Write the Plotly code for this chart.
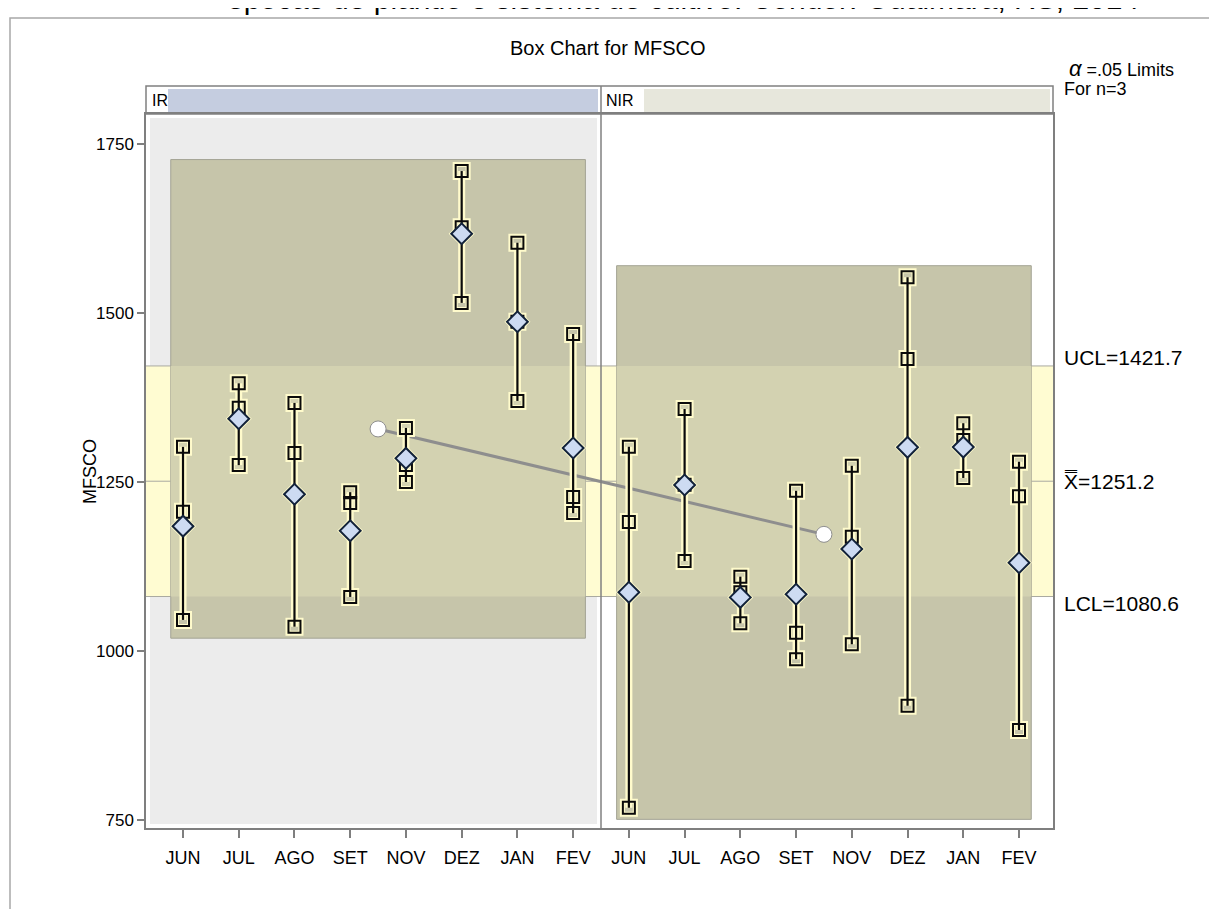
import numpy as np
import plotly.graph_objects as go

# ---------------- data ----------------
months = ["JUN", "JUL", "AGO", "SET", "NOV", "DEZ", "JAN", "FEV"]
groups = ["IR", "NIR"]
ir_obs = [
    [1302, 1206, 1046],
    [1396, 1360, 1275],
    [1367, 1293, 1036],
    [1235, 1219, 1080],
    [1330, 1275, 1250],
    [1710, 1627, 1515],
    [1604, 1487, 1370],
    [1469, 1228, 1204],
]
nir_obs = [
    [1302, 1191, 768],
    [1358, 1246, 1133],
    [1110, 1087, 1041],
    [1237, 1027, 988],
    [1274, 1169, 1010],
    [1553, 1432, 919],
    [1337, 1312, 1256],
    [1280, 1229, 883],
]
ucl = 1421.7
center = 1251.2
lcl = 1080.6
y_ticks = [750, 1000, 1250, 1500, 1750]

# ---------------- derived ----------------
obs = ir_obs + nir_obs
nm = len(months)
xs = list(range(len(obs)))
means = [float(np.mean(o)) for o in obs]
group_obs = [ir_obs, nir_obs]
group_x = [(g * nm + (g * nm + nm - 1)) / 2 for g in range(len(groups))]
group_mean = [float(np.mean([np.mean(o) for o in go_])) for go_ in group_obs]

FONT = "Liberation Sans"
W, H = 1217, 909
L, T = 138, 106
RIGHT, BOTTOM = 1045, 820
R, B = W - RIGHT, H - BOTTOM
PW = RIGHT - L
PH = BOTTOM - T
STRIP_TOP = 78
X_RANGE = [-0.664, 15.61]


def px_x(p):
    return (p - L) / PW


def px_y(p):
    return 1 - (p - T) / PH


fig = go.Figure()
shapes = []

# frame around whole chart
shapes.append(dict(type="rect", xref="paper", yref="paper", x0=px_x(2), x1=px_x(W + 10),
                   y0=px_y(H + 10), y1=px_y(10), line=dict(color="#a8a8a8", width=1.5),
                   fillcolor="rgba(0,0,0,0)", layer="below"))
# IR panel background
div_px = L + (nm - 0.5 - X_RANGE[0]) / (X_RANGE[1] - X_RANGE[0]) * PW
shapes.append(dict(type="rect", xref="paper", yref="paper", x0=px_x(L + 4), x1=px_x(div_px - 4),
                   y0=px_y(BOTTOM - 4), y1=px_y(T + 4), line=dict(width=0), fillcolor="#ececec",
                   layer="below"))
# control-limit band
shapes.append(dict(type="rect", xref="paper", yref="y", x0=0, x1=1, y0=lcl, y1=ucl,
                   line=dict(width=0), fillcolor="#fffcd2", layer="below"))
# range boxes per group
pad_x, pad_y = 0.22, 17
for g, gobs in enumerate(group_obs):
    allv = [v for o in gobs for v in o]
    bmin, bmax = min(allv) - pad_y, max(allv) + pad_y
    x0, x1 = g * nm - pad_x, g * nm + nm - 1 + pad_x
    shapes.append(dict(type="rect", xref="x", yref="y", x0=x0, x1=x1, y0=bmin, y1=bmax,
                       line=dict(color="#a3a394", width=1), fillcolor="#c6c5aa", layer="below"))
    shapes.append(dict(type="rect", xref="x", yref="y", x0=x0, x1=x1,
                       y0=max(lcl, bmin), y1=min(ucl, bmax),
                       line=dict(width=0), fillcolor="#d3d2b1", layer="below"))
# limit lines
for v in (ucl, center, lcl):
    shapes.append(dict(type="line", xref="paper", yref="y", x0=0, x1=1, y0=v, y1=v,
                       line=dict(color="#a9a9a0", width=1), layer="below"))
# panel divider
shapes.append(dict(type="line", xref="x", yref="paper", x0=nm - 0.5, x1=nm - 0.5,
                   y0=0, y1=px_y(STRIP_TOP), line=dict(color="#808080", width=1.5)))
# strip
shapes.append(dict(type="rect", xref="paper", yref="paper", x0=0, x1=1, y0=px_y(T),
                   y1=px_y(STRIP_TOP), line=dict(color="#808080", width=1.5),
                   fillcolor="rgba(0,0,0,0)"))
shapes.append(dict(type="rect", xref="paper", yref="paper", x0=px_x(160), x1=px_x(div_px - 3),
                   y0=px_y(T - 2), y1=px_y(STRIP_TOP + 3), line=dict(width=0), fillcolor="#c5cde0",
                   layer="below"))
shapes.append(dict(type="rect", xref="paper", yref="paper", x0=px_x(636), x1=px_x(RIGHT - 3),
                   y0=px_y(T - 2), y1=px_y(STRIP_TOP + 3), line=dict(width=0), fillcolor="#e7e7dc",
                   layer="below"))

# ---------------- traces ----------------
fig.add_trace(go.Scatter(x=group_x, y=group_mean, mode="lines+markers",
                         line=dict(color="#8e8e8e", width=3),
                         marker=dict(symbol="circle", size=16, color="white",
                                     line=dict(color="#8e8e8e", width=1)),
                         hoverinfo="skip", showlegend=False))

wx, wy = [], []
sx, sy = [], []
for i, o in zip(xs, obs):
    wx += [i, i, None]
    wy += [min(o), max(o), None]
    sx += [i] * len(o)
    sy += list(o)

halo = "#fffbcc"
fig.add_trace(go.Scatter(x=wx, y=wy, mode="lines", line=dict(color=halo, width=7),
                         hoverinfo="skip", showlegend=False))
fig.add_trace(go.Scatter(x=sx, y=sy, mode="markers",
                         marker=dict(symbol="square-open", size=13, color=halo,
                                     line=dict(color=halo, width=5)),
                         hoverinfo="skip", showlegend=False))
fig.add_trace(go.Scatter(x=xs, y=means, mode="markers",
                         marker=dict(symbol="diamond", size=20, color=halo,
                                     line=dict(width=0)),
                         hoverinfo="skip", showlegend=False))
fig.add_trace(go.Scatter(x=wx, y=wy, mode="lines", line=dict(color="#0a0a0a", width=2.2),
                         hoverinfo="skip", showlegend=False))
fig.add_trace(go.Scatter(x=sx, y=sy, mode="markers",
                         marker=dict(symbol="square-open", size=12, color="#0a0a0a",
                                     line=dict(color="#0a0a0a", width=2)),
                         showlegend=False))
fig.add_trace(go.Scatter(x=xs, y=means, mode="markers",
                         marker=dict(symbol="diamond", size=16, color="#cddbf2",
                                     line=dict(color="#12223a", width=2)),
                         showlegend=False))

# ---------------- annotations ----------------
ann = []
ann.append(dict(text="épocas de plantio e sistema de cultivo. Condor: Guaimará, RS, 2014",
                xref="paper", yref="paper", x=px_x(675), y=px_y(-9), xanchor="center",
                yanchor="middle", showarrow=False, font=dict(size=30, color="black", family=FONT)))
ann.append(dict(text="Box Chart for MFSCO", xref="paper", yref="paper", x=px_x(600),
                y=px_y(40), xanchor="center", yanchor="middle", showarrow=False,
                font=dict(size=20, color="black", family=FONT)))
ann.append(dict(text="<i><span style='font-size:22px'>α</span></i> =.05 Limits",
                xref="paper", yref="paper", x=px_x(1059),
                y=px_y(60), xanchor="left", yanchor="middle", showarrow=False,
                font=dict(size=18, color="black", family=FONT)))
ann.append(dict(text="For n=3", xref="paper", yref="paper", x=px_x(1054),
                y=px_y(81), xanchor="left", yanchor="middle", showarrow=False,
                font=dict(size=18, color="black", family=FONT)))
for lab, v, dy in (("UCL=%.1f" % ucl, ucl, 8), ("X\u033F=%.1f" % center, center, 0),
                   ("LCL=%.1f" % lcl, lcl, -7)):
    ann.append(dict(text=lab, xref="paper", yref="y", x=px_x(1054), y=v, yshift=dy,
                    xanchor="left", yanchor="middle", showarrow=False,
                    font=dict(size=21, color="black", family=FONT)))
for g, name in enumerate(groups):
    xp = L + 4 if g == 0 else div_px + 3
    ann.append(dict(text=name, xref="paper", yref="paper", x=px_x(xp), y=px_y((T + STRIP_TOP) / 2),
                    xanchor="left", yanchor="middle", showarrow=False,
                    font=dict(size=16, color="black", family=FONT)))
ann.append(dict(text="MFSCO", xref="paper", yref="paper", x=px_x(82), y=px_y(464),
                xanchor="center", yanchor="middle", textangle=-90, showarrow=False,
                font=dict(size=18, color="black", family=FONT)))

fig.update_layout(
    width=W, height=H,
    margin=dict(l=L, r=R, t=T, b=B, pad=0),
    paper_bgcolor="white", plot_bgcolor="white",
    shapes=shapes, annotations=ann,
    font=dict(family=FONT, size=16, color="black"),
    xaxis=dict(range=X_RANGE, tickvals=xs, ticktext=months * len(groups),
               showgrid=False, zeroline=False, showline=True, mirror=True,
               linecolor="#7f7f7f", linewidth=1.5, ticks="outside", ticklen=8,
               tickcolor="#7f7f7f", tickwidth=1.5, ticklabelstandoff=5,
               tickfont=dict(size=18, family=FONT, color="black")),
    yaxis=dict(range=[738.2, 1794.4], tickvals=y_ticks, showgrid=False, zeroline=False,
               showline=True, mirror=True, linecolor="#7f7f7f", linewidth=1.5,
               ticks="outside", ticklen=7, tickcolor="#7f7f7f", tickwidth=1.5,
               tickfont=dict(size=17, family=FONT, color="black")),
    showlegend=False,
)

fig.write_html("out.html")
